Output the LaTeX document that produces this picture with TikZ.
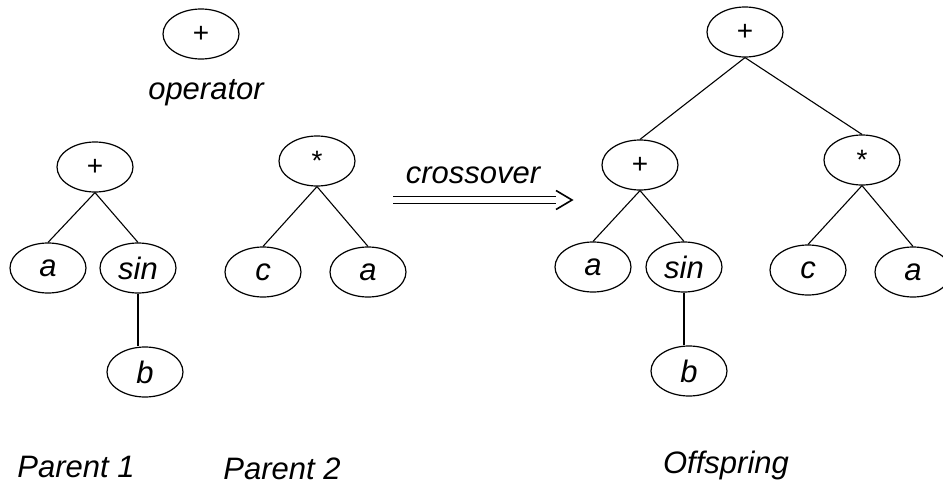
\documentclass[tikz,border=0pt]{standalone}
\usepackage{fontspec}
\setmainfont{Liberation Sans}
\usetikzlibrary{shapes.geometric}
\tikzset{
  tnode/.style={draw, ellipse, line width=1.2pt, minimum width=76pt, minimum height=50pt, inner sep=0pt, font=\fontsize{31}{36}\selectfont\itshape},
  opnode/.style={tnode, font=\fontsize{28}{32}\selectfont\upshape},
  edge/.style={line width=1.1pt},
  caption/.style={font=\fontsize{31}{36}\selectfont\itshape, inner sep=0pt}
}
\begin{document}
\begin{tikzpicture}[x=1pt,y=-1pt]
\useasboundingbox (0,0) rectangle (943,485);
% operator legend
\node[opnode] (op) at (201,34) {+};
\node[caption] (opl) at (206,93) {operator};
% Parent 1
\node[opnode] (p1r) at (95,167) {+};
\node[tnode] (p1a) at (48,268) {a};
\node[tnode] (p1s) at (138,268) {sin};
\node[tnode] (p1b) at (145,372) {b};
\draw[edge] (p1r.south) -- (p1a.north);
\draw[edge] (p1r.south) -- (p1s.north);
\draw[edge] (p1s.south) -- (p1s.south |- p1b.north);
\node[caption] (p1l) at (76,467) {Parent 1};
% Parent 2
\node[opnode] (p2r) at (317,161) {*};
\node[tnode] (p2c) at (263,272) {c};
\node[tnode] (p2a) at (368,272) {a};
\draw[edge] (p2r.south) -- (p2c.north);
\draw[edge] (p2r.south) -- (p2a.north);
\node[caption] (p2l) at (282,469) {Parent 2};
% crossover arrow
\node[caption] (cl) at (473,175) {crossover};
\coordinate (as) at (393,200);
\coordinate (ae) at (556,200);
\coordinate (at) at (572,200);
\draw[line width=1.4pt, double, double distance=6pt] (as) -- (ae);
\draw[line width=1.6pt] ([yshift=-9.5pt]ae) -- (at) -- ([yshift=9.5pt]ae);
% Offspring
\node[opnode] (or) at (745,32) {+};
\node[opnode] (op1) at (640,165) {+};
\node[opnode] (om) at (862,160) {*};
\node[tnode] (oa) at (593,267) {a};
\node[tnode] (os) at (684,267) {sin};
\node[tnode] (ob) at (689,371) {b};
\node[tnode] (oc) at (808,270) {c};
\node[tnode] (oa2) at (913,272) {a};
\draw[edge] (or.south) -- (op1.north);
\draw[edge] (or.south) -- (om.north);
\draw[edge] (op1.south) -- (oa.north);
\draw[edge] (op1.south) -- (os.north);
\draw[edge] (os.south) -- (os.south |- ob.north);
\draw[edge] (om.south) -- (oc.north);
\draw[edge] (om.south) -- (oa2.north);
\node[caption] (ol) at (726,465) {Offspring};
\end{tikzpicture}
\end{document}
